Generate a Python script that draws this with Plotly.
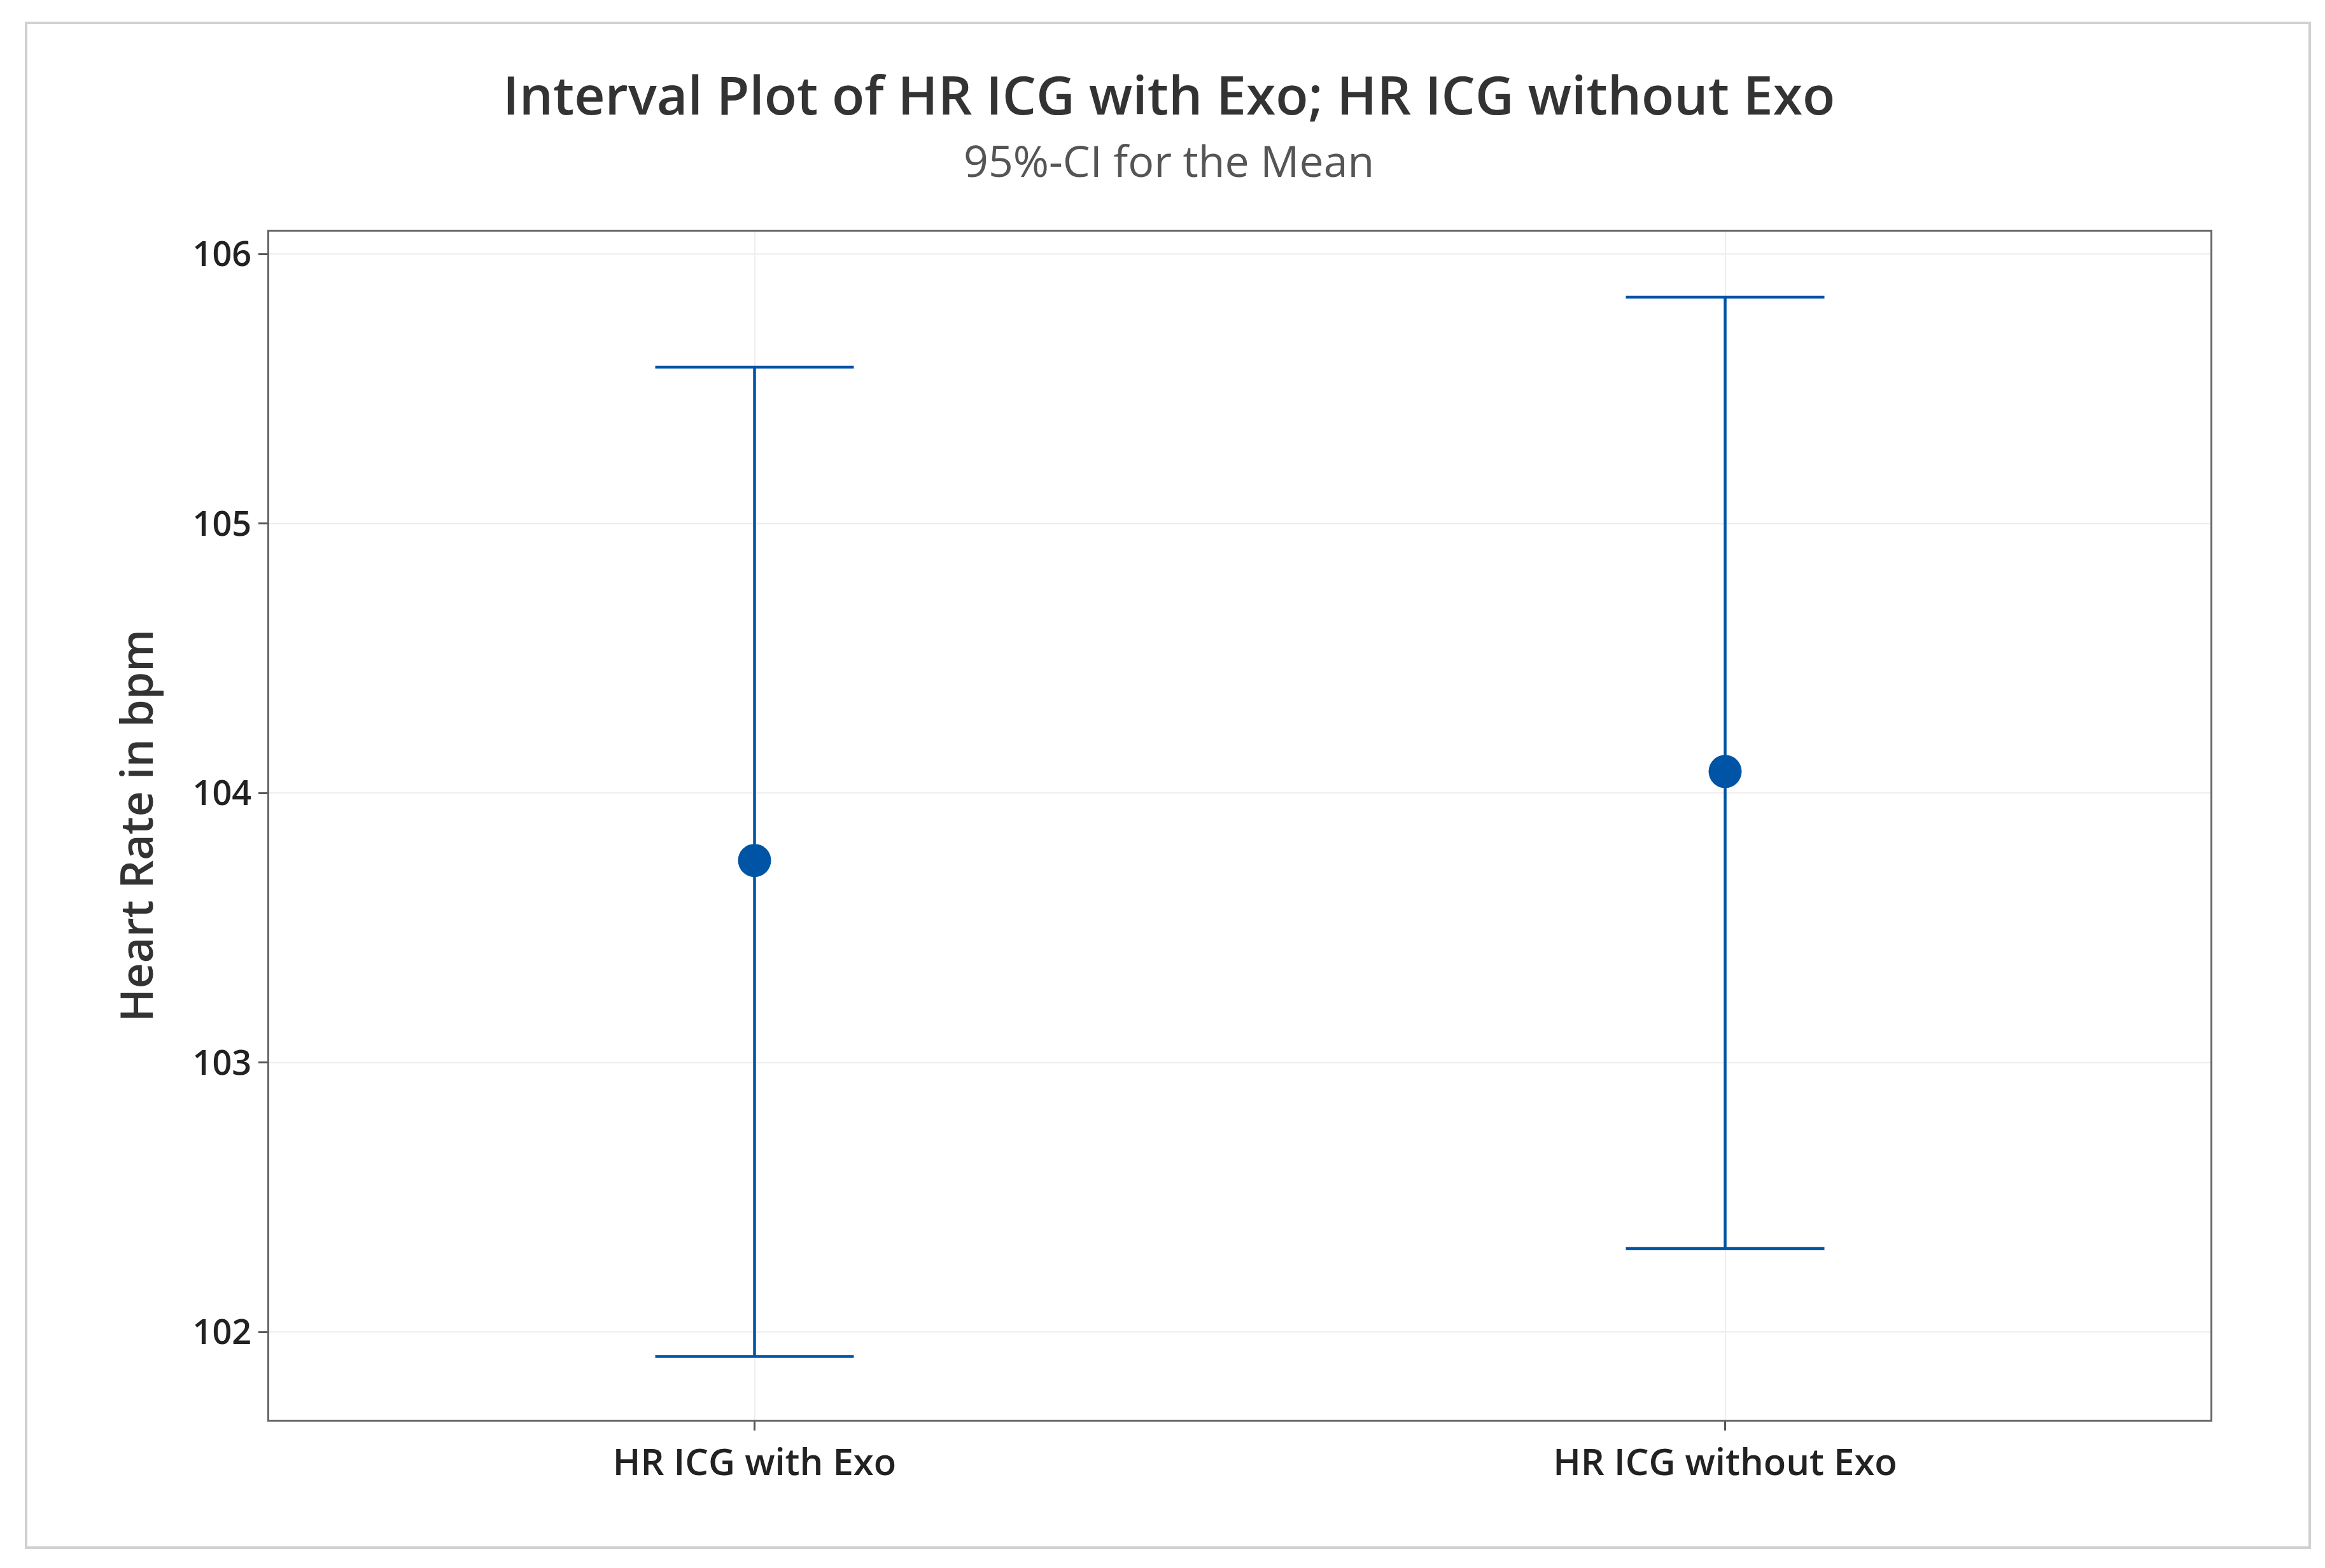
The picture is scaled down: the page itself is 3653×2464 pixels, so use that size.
import plotly.graph_objects as go

categories = ["HR ICG with Exo", "HR ICG without Exo"]
means = [103.75, 104.08]
upper = [105.58, 105.84]
lower = [101.91, 102.31]
yticks = [102, 103, 104, 105, 106]

W, H = 3653, 2464
L, R, T, B = 415, 188, 356, 241
fig = go.Figure(go.Scatter(
    x=list(range(len(categories))), y=means, mode="markers",
    marker=dict(color="#0054A6", size=52, symbol="circle"),
    error_y=dict(type="data", symmetric=False,
                 array=[u - m for u, m in zip(upper, means)],
                 arrayminus=[m - l for m, l in zip(means, lower)],
                 color="#0054A6", thickness=4.5, width=156),
    showlegend=False))

font = "Open Sans"
fig.update_layout(
    width=W, height=H, margin=dict(l=L, r=R, t=T, b=B),
    paper_bgcolor="white", plot_bgcolor="white",
    font=dict(family=font, color="#222222"),
    xaxis=dict(range=[-0.5, 1.5], tickvals=list(range(len(categories))), ticktext=categories,
               tickfont=dict(size=58, color="#222222", weight=600), showgrid=True, gridcolor="#EEEEEE", gridwidth=2,
               ticks="outside", ticklen=14, tickwidth=3, tickcolor="#555555",
               showline=True, linecolor="#666666", linewidth=3, mirror=True, zeroline=False),
    yaxis=dict(range=[101.675, 106.083], tickvals=yticks,
               tickfont=dict(size=54, color="#222222", weight=600), showgrid=True, gridcolor="#EEEEEE", gridwidth=2,
               ticks="outside", ticklen=14, tickwidth=3, tickcolor="#555555",
               showline=True, linecolor="#666666", linewidth=3, mirror=True, zeroline=False,
               title=dict(text="Heart Rate in bpm", font=dict(size=70, color="#333333", weight=600), standoff=40)),
)
pw, ph = W - L - R, H - T - B
def px(x): return (x - L) / pw
def py(y): return (H - B - y) / ph
fig.add_annotation(text="Interval Plot of HR ICG with Exo; HR ICG without Exo", xref="paper", yref="paper",
                   x=px(1828), y=py(80), showarrow=False, font=dict(size=84, color="#333333", weight=600))
fig.add_annotation(text="95%-CI for the Mean", xref="paper", yref="paper",
                   x=px(1828), y=py(195), showarrow=False, font=dict(size=68, color="#555555"))
fig.add_shape(type="rect", xref="paper", yref="paper", x0=px(33), x1=px(3621), y0=py(28), y1=py(2424),
              line=dict(color="#D0D0D0", width=4))
fig.write_html("out.html")
